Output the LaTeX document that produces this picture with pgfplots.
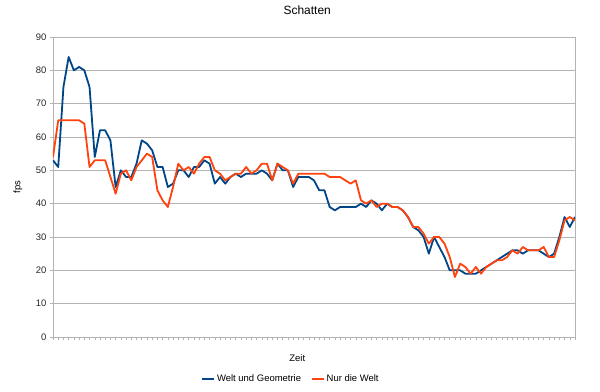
\documentclass[border=0pt]{standalone}
\usepackage{fontspec}
\setmainfont{Liberation Sans}
\usepackage{pgfplots}
\usepackage{pgfplotstable}
\pgfplotsset{compat=1.18}
\definecolor{wblue}{HTML}{004586}
\definecolor{norange}{HTML}{FF420E}
\definecolor{gridgray}{HTML}{B3B3B3}
\pgfplotstableread{
i blue orange
0 53 54
1 51 65
2 75 65
3 84 65
4 80 65
5 81 65
6 80 64
7 75 51
8 54 53
9 62 53
10 62 53
11 59 48
12 45 43
13 50 49
14 48 50
15 48 47
16 52 51
17 59 53
18 58 55
19 56 54
20 51 44
21 51 41
22 45 39
23 46 45
24 50 52
25 50 50
26 48 51
27 51 49
28 51 52
29 53 54
30 52 54
31 46 50
32 48 49
33 46 47
34 48 48
35 49 49
36 48 49
37 49 51
38 49 49
39 49 50
40 50 52
41 49 52
42 47 47
43 52 52
44 50 51
45 50 50
46 45 46
47 48 49
48 48 49
49 48 49
50 47 49
51 44 49
52 44 49
53 39 48
54 38 48
55 39 48
56 39 47
57 39 46
58 39 47
59 40 41
60 39 40
61 41 41
62 40 39
63 38 40
64 40 40
65 39 39
66 39 39
67 38 38
68 36 36
69 33 33
70 32 33
71 30 31
72 25 28
73 30 30
74 27 30
75 24 28
76 20 24
77 20 18
78 20 22
79 19 21
80 19 19
81 19 21
82 20 19
83 21 21
84 22 22
85 23 23
86 24 23
87 25 24
88 26 26
89 26 25
90 25 27
91 26 26
92 26 26
93 26 26
94 25 27
95 24 24
96 25 24
97 30 29
98 36 35
99 33 36
100 36 35
}\datatable
\begin{document}
\begin{tikzpicture}
\useasboundingbox (-53bp,-55bp) rectangle (547bp,337bp);
\begin{axis}[
  at={(0,0)}, anchor=south west,
  scale only axis, width=522bp, height=300bp,
  xmin=0, xmax=100, ymin=0, ymax=90,
  ytick={0,10,...,90},
  xtick={0,1,...,100}, xticklabels={},
  ymajorgrids, grid style={gridgray, line width=0.6bp},
  axis line style={gridgray, line width=0.6bp},
  tick style={gridgray, line width=0.5bp},
  tick align=outside, major tick length=3bp,
  xtick pos=lower, ytick pos=left,
  font=\fontsize{9.5}{11}\selectfont,
  /pgf/number format/assume math mode=true,
  yticklabel style={text=black!85},
  title={Schatten},
  title style={font=\fontsize{12}{14}\selectfont, at={(axis description cs:0.487,1)}, anchor=base, yshift=17bp},
  xlabel={Zeit},
  xlabel style={at={(axis description cs:0.468,0)}, anchor=base, yshift=-24bp},
  ylabel={fps},
  ylabel style={at={(axis description cs:-0.067,0.5)}, anchor=center},
  legend style={at={(axis description cs:0.456,-0.14)}, anchor=center, draw=none, fill=none,
    legend columns=2, font=\fontsize{9.5}{11}\selectfont,
    /tikz/every even column/.append style={column sep=8bp}},
  legend image code/.code={\draw[#1, line width=1.6bp] (0bp,0bp) -- (12bp,0bp);},
  every axis plot/.append style={line width=1.8bp, line join=round, mark=none},
]
\addplot[wblue] table[x=i, y=blue] {\datatable};
\addlegendentry{Welt und Geometrie}
\addplot[norange] table[x=i, y=orange] {\datatable};
\addlegendentry{Nur die Welt}
\end{axis}
\end{tikzpicture}
\end{document}
